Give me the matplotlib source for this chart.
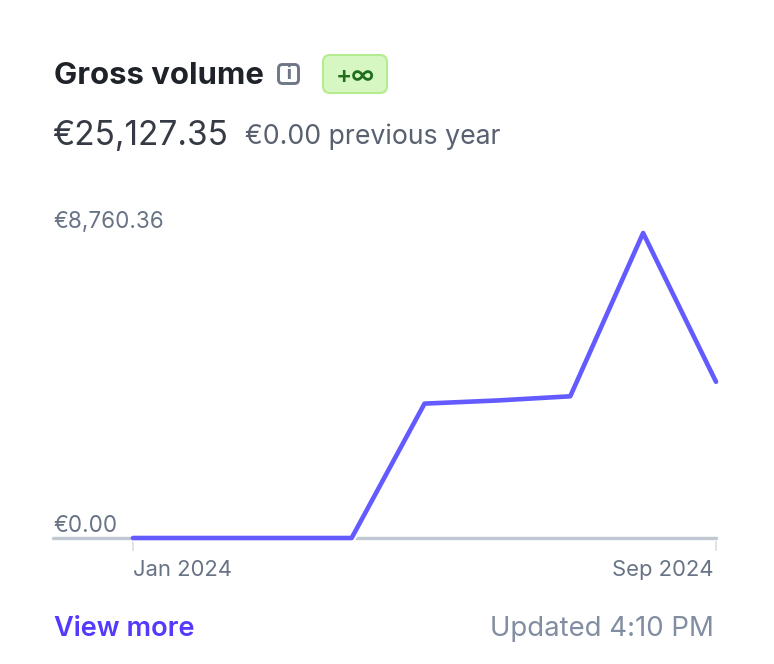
import numpy as np
import matplotlib
matplotlib.use("Agg")
import matplotlib.pyplot as plt
from matplotlib.patches import FancyBboxPatch

W, H = 774, 664

months = ["Jan", "Feb", "Mar", "Apr", "May", "Jun", "Jul", "Aug", "Sep"]
volume = [0, 0, 0, 0, 3860, 3950, 4070, 8760.36, 4487]
tick_labels = ["Jan 2024", "Sep 2024"]
y_labels = ["€8,760.36", "€0.00"]

plt.rcParams['font.family'] = ['Inter', 'DejaVu Sans']

fig = plt.figure(figsize=(W / 100, H / 100), dpi=100, facecolor="white")

# overlay in pixel coords for the card text
bg = fig.add_axes([0, 0, 1, 1])
bg.set_xlim(0, W)
bg.set_ylim(H, 0)
bg.axis("off")

def px(size):
    return size * 0.72

# title row
bg.text(53.5, 84, "Gross volume", fontsize=px(31.1), fontweight="bold", color="#1f2329", va="baseline")
bg.add_patch(FancyBboxPatch((278.5, 64.5), 20, 19, boxstyle="round,pad=0,rounding_size=4",
                            fc="white", ec="#6f7787", lw=2.1))
bg.text(288.5, 74.5, "i", fontsize=px(17), fontweight="heavy", color="#6f7787", ha="center", va="center")
bg.add_patch(FancyBboxPatch((323, 55), 64, 38, boxstyle="round,pad=0,rounding_size=7",
                            fc="#d7f7c2", ec="#b4ec8f", lw=1.5))
bg.text(355, 82.5, "+∞", fontsize=px(24), fontweight="semibold", color="#216e1f", ha="center", va="baseline")

# totals
bg.text(52.5, 145, "€25,127.35", fontsize=px(33.4), color="#353a44", va="baseline")
bg.text(245, 144, "€0.00 previous year", fontsize=px(26.7), color="#596171", va="baseline")

# footer
bg.text(53.5, 636, "View more", fontsize=px(27.2), fontweight="semibold", color="#533afd", va="baseline")
bg.text(714, 636, "Updated 4:10 PM", fontsize=px(27.6), color="#818da0", ha="right", va="baseline")

# chart
x0, x1, y_top, y_bot = 133, 716, 233, 538
ax = fig.add_axes([x0 / W, 1 - y_bot / H, (x1 - x0) / W, (y_bot - y_top) / H])
ax.patch.set_alpha(0)
ax.set_xlim(0, len(months) - 1)
ax.set_ylim(0, max(volume))
ax.axis("off")

x = np.arange(len(months))
base_lw = px(3.4)
ax.plot([-80 / 72.875, 8], [0, 0], color="#c0c8d2", lw=base_lw, solid_capstyle="round", clip_on=False, zorder=1)
ax.plot(x, volume, color="white", lw=px(8.5), solid_joinstyle="round", solid_capstyle="butt", clip_on=False, zorder=2)
ax.plot(x, volume, color="#635bff", lw=px(4.6), solid_joinstyle="round", solid_capstyle="round", clip_on=False, zorder=3)

# end ticks
for pos in [0, len(months) - 1]:
    ax.plot([pos, pos], [-3 / 305 * max(volume), -13 / 305 * max(volume)], color="#d5dbe1", lw=px(1.5),
            clip_on=False, solid_capstyle="butt", zorder=1)

bg.text(53, 228, y_labels[0], fontsize=px(22.4), color="#687385", va="baseline")
bg.text(53, 532, y_labels[1], fontsize=px(22.4), color="#687385", va="baseline")
bg.text(133, 576, tick_labels[0], fontsize=px(22), color="#687385", va="baseline")
bg.text(713, 576, tick_labels[1], fontsize=px(22), color="#687385", ha="right", va="baseline")

fig.savefig("out.png", dpi=100, facecolor="white")
